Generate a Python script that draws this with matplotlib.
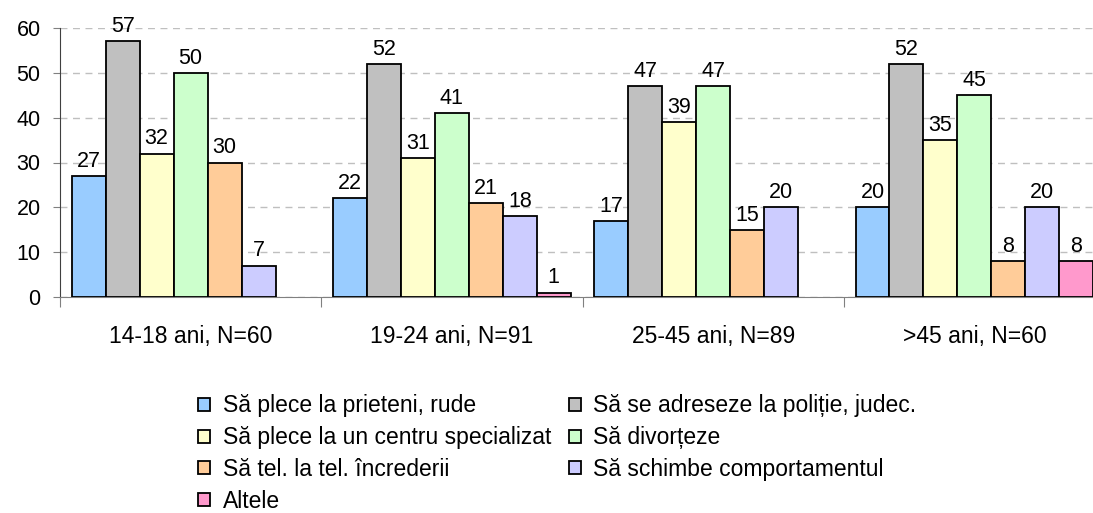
import matplotlib.pyplot as plt
import numpy as np

plt.rcParams["font.family"] = ["Liberation Sans", "DejaVu Sans"]

groups = ["14-18 ani, N=60", "19-24 ani, N=91", "25-45 ani, N=89", ">45 ani, N=60"]
series = [
    "Să plece la prieteni, rude",
    "Să se adreseze la poliție, judec.",
    "Să plece la un centru specializat",
    "Să divorțeze",
    "Să tel. la tel. încrederii",
    "Să schimbe comportamentul",
    "Altele",
]
prieteni = [27, 22, 17, 20]
politie = [57, 52, 47, 52]
centru = [32, 31, 39, 35]
divort = [50, 41, 47, 45]
telefon = [30, 21, 15, 8]
comport = [7, 18, 20, 20]
altele = [None, 1, None, 8]

values = [prieteni, politie, centru, divort, telefon, comport, altele]
colors = ["#99CCFF", "#C0C0C0", "#FFFFCC", "#CCFFCC", "#FFCC99", "#CCCCFF", "#FF99CC"]

fig = plt.figure(figsize=(10.93, 5.13), dpi=100)
ax = fig.add_axes([60 / 1093, 216 / 513, 1045 / 1093, 269 / 513])

x = np.arange(len(groups))
width = 0.13
handles = []
for i, (vals, col) in enumerate(zip(values, colors)):
    v = np.array([np.nan if a is None else a for a in vals], dtype=float)
    pos = x - 3 * width + i * width
    bars = ax.bar(pos, v, width, color=col, edgecolor="black", linewidth=1.3,
                  label=series[i], zorder=3)
    handles.append(bars)
    for p, val in zip(pos, v):
        if not np.isnan(val):
            ax.annotate(f"{val:.0f}", (p, val), xytext=(0, 3), textcoords="offset points",
                        ha="center", va="bottom", fontsize=15.5)

ax.set_ylim(0, 60)
ax.set_xlim(-0.5, len(groups) - 0.5)
ax.set_yticks(range(0, 61, 10))
ax.tick_params(axis="y", labelsize=15.5, length=5, color="#808080", pad=9)
ax.set_xticks(np.arange(len(groups) + 1) - 0.5)
ax.set_xticklabels([])
ax.set_xticks(x, minor=True)
ax.set_xticklabels(groups, minor=True, fontsize=16.5)
ax.tick_params(axis="x", which="major", length=7, color="#808080", direction="out")
ax.tick_params(axis="x", which="minor", length=0, pad=20)

ax.yaxis.grid(True, linestyle=(0, (5, 4)), color="#BFBFBF", linewidth=1, zorder=0)
for s in ["top", "right"]:
    ax.spines[s].set_visible(False)
ax.spines["left"].set_color("#404040")
ax.spines["bottom"].set_color("#808080")

# legend reads row by row: two entries per row
order = [0, 2, 4, 6, 1, 3, 5]
fig.legend([handles[i] for i in order], [series[i] for i in order], ncol=2,
           loc="upper left", bbox_to_anchor=(187 / 1093, 1 - 383 / 513),
           frameon=False, fontsize=16.5, handlelength=0.5, handleheight=0.5,
           handletextpad=0.55, columnspacing=0.8, labelspacing=0.38, borderpad=0)

fig.savefig("out.png", dpi=100)
